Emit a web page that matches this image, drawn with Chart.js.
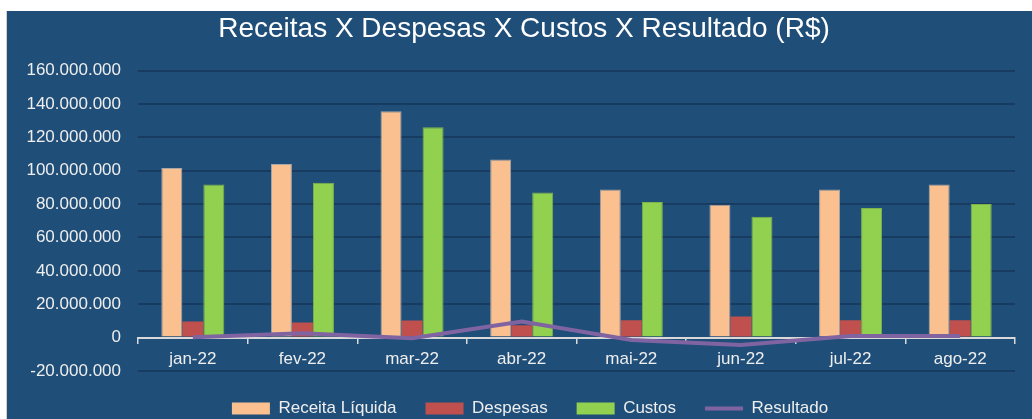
<!DOCTYPE html>
<html lang="pt-BR">
<head>
<meta charset="utf-8">
<title>Receitas X Despesas X Custos X Resultado (R$)</title>
<script src="https://cdn.jsdelivr.net/npm/chart.js@4.4.1/dist/chart.umd.min.js"></script>
<style>
  html, body { margin: 0; padding: 0; background: #ffffff; }
  #wrap {
    position: absolute; left: 6px; top: 11px;
    width: 1026px; height: 408px;
    background: #1f4e79;
    border-left: 1px solid #d0d0d0;
    box-sizing: border-box;
  }
  #box { position: relative; width: 1025px; height: 408px; }
</style>
</head>
<body>
<div id="wrap"><div id="box"><canvas id="chart"></canvas></div></div>
<script>
// dados (R$)
var meses = ["jan-22", "fev-22", "mar-22", "abr-22", "mai-22", "jun-22", "jul-22", "ago-22"];
var receitaLiquida = [101600000, 104000000, 135600000, 106800000, 88800000, 79600000, 88800000, 91800000];
var despesas = [9600000, 9000000, 10200000, 7400000, 10400000, 12600000, 10400000, 10400000];
var custos = [91800000, 92800000, 126000000, 87000000, 81200000, 72400000, 77600000, 80000000];
var resultado = [200000, 2600000, -400000, 9600000, -1400000, -4400000, 1000000, 1000000];

var eixoMin = -20000000;
var eixoMax = 160000000;
var eixoPasso = 20000000;

var fonte = "'Liberation Sans', Arial, sans-serif";
var corTexto = "#eeeeee";

function formatarNumero(v) {
  var s = Math.abs(Math.round(v)).toString().replace(/\B(?=(\d{3})+(?!\d))/g, ".");
  return (v < 0 ? "-" : "") + s;
}

// desloca título e legenda um pouco para a direita, como no original
var deslocarBlocos = {
  id: "deslocarBlocos",
  afterLayout: function (chart) {
    if (chart.titleBlock) {
      chart.titleBlock.left += 13;
      chart.titleBlock.right += 13;
    }
    if (chart.legend) {
      chart.legend.left += 19;
      chart.legend.right += 19;
    }
  },
};

document.addEventListener("DOMContentLoaded", function () {
  var ctx = document.getElementById("chart").getContext("2d");
  new Chart(ctx, {
    type: "bar",
    data: {
      labels: meses,
      datasets: [
        {
          label: "Receita Líquida",
          data: receitaLiquida,
          backgroundColor: "#fac090",
          borderColor: "#a6a6a6",
          borderWidth: 1,
          order: 1,
        },
        {
          label: "Despesas",
          data: despesas,
          backgroundColor: "#c0504d",
          borderColor: "#c0504d",
          borderWidth: 0,
          order: 1,
        },
        {
          label: "Custos",
          data: custos,
          backgroundColor: "#92d050",
          borderColor: "#7fb24a",
          borderWidth: 1,
          order: 1,
        },
        {
          type: "line",
          label: "Resultado",
          data: resultado,
          borderColor: "#8064a2",
          backgroundColor: "#8064a2",
          borderWidth: 4,
          pointRadius: 0,
          tension: 0,
          fill: false,
          order: 0,
        },
      ],
    },
    plugins: [deslocarBlocos],
    options: {
      responsive: true,
      maintainAspectRatio: false,
      animation: false,
      categoryPercentage: 0.575,
      barPercentage: 1.0,
      layout: {
        padding: { left: 0, right: 17, top: 0, bottom: -8 },
      },
      plugins: {
        title: {
          display: true,
          text: "Receitas X Despesas X Custos X Resultado (R$)",
          color: "#ffffff",
          font: { family: fonte, size: 28, weight: "normal" },
          padding: { top: 1, bottom: 25 },
        },
        legend: {
          display: true,
          position: "bottom",
          labels: {
            color: corTexto,
            font: { family: fonte, size: 17 },
            usePointStyle: true,
            pointStyleWidth: 38,
            boxWidth: 38,
            boxHeight: 12,
            padding: 29,
            sort: function (a, b) { return a.datasetIndex - b.datasetIndex; },
            generateLabels: function (chart) {
              var itens = Chart.defaults.plugins.legend.labels.generateLabels(chart);
              itens.forEach(function (it) {
                var ds = chart.data.datasets[it.datasetIndex];
                if (ds.type === "line") {
                  it.pointStyle = "line";
                  it.lineWidth = 4;
                  it.strokeStyle = ds.borderColor;
                } else {
                  it.pointStyle = "rect";
                  it.lineWidth = 0;
                  it.fillStyle = ds.backgroundColor;
                }
                it.fontColor = corTexto;
              });
              return itens;
            },
          },
        },
        tooltip: { enabled: false },
      },
      scales: {
        x: {
          position: { y: 0 },
          offset: true,
          grid: {
            offset: true,
            drawOnChartArea: false,
            drawTicks: true,
            tickLength: 5,
            color: "#d9d9d9",
            lineWidth: 1.5,
          },
          border: { display: true, color: "#d9d9d9", width: 2 },
          ticks: {
            color: corTexto,
            font: { family: fonte, size: 17 },
            padding: 6,
            maxRotation: 0,
          },
        },
        y: {
          min: eixoMin,
          max: eixoMax,
          afterFit: function (scale) { scale.width = 131; },
          grid: {
            color: "#183b62",
            lineWidth: 2,
            drawTicks: false,
          },
          border: { display: false },
          ticks: {
            stepSize: eixoPasso,
            color: corTexto,
            font: { family: fonte, size: 17 },
            padding: 17,
            callback: function (v) { return formatarNumero(v); },
          },
        },
      },
    },
  });
});
</script>
</body>
</html>
